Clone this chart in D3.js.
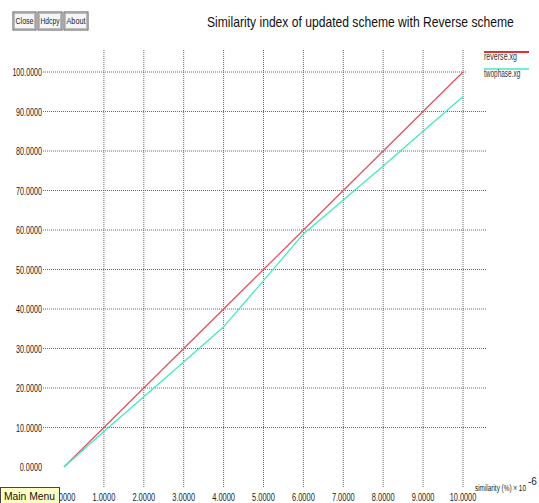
<!DOCTYPE html>
<html>
<head>
<meta charset="utf-8">
<script src="https://cdn.jsdelivr.net/npm/d3@7"></script>
<style>
  body { margin: 0; background: #fff; }
  svg { display: block; font-family: "Liberation Sans", Arial, sans-serif; }
</style>
</head>
<body>
<div id="chart"></div>
<script>
// data
var xValues = [0, 1, 2, 3, 4, 5, 6, 7, 8, 9, 10];
var reverseValues = [0, 10, 20, 30, 40, 50, 60, 70, 80, 90, 100];
var twophaseValues = [0, 9, 17.8, 26.6, 35.5, 47.2, 59, 67.6, 76.2, 85, 93.8];
var xTicks = [0, 1, 2, 3, 4, 5, 6, 7, 8, 9, 10];
var yTicks = [0, 10, 20, 30, 40, 50, 60, 70, 80, 90, 100];
var seriesNames = ["reverse.xg", "twophase.xg"];
var buttonLabels = ["Close", "Hdcpy", "About"];

var width = 539, height = 503;

var svg = d3.select("#chart").append("svg")
    .attr("width", width)
    .attr("height", height);

var x = d3.scaleLinear().domain([0, 10]).range([64, 463]);
var y = d3.scaleLinear().domain([0, 100]).range([467, 72]);

// squeeze text like the narrow X11 font
function narrow(sel, perChar) {
  sel.attr("textLength", function(d) { return this.textContent.length * perChar; })
     .attr("lengthAdjust", "spacingAndGlyphs");
}

// squeeze a text to a given width with a horizontal scale
function fitWidth(sel, px, py, w) {
  var len = sel.node().getComputedTextLength();
  sel.attr("transform", "translate(" + px + "," + py + ") scale(" + (w / len) + ",1)");
}

// horizontal grid
var grid = svg.append("g").attr("class", "grid");
grid.selectAll("line.h")
  .data(yTicks.filter(function(d) { return d > 0; }))
  .enter().append("line")
    .attr("class", "h")
    .attr("x1", 43).attr("x2", 486)
    .attr("y1", function(d) { return y(d); })
    .attr("y2", function(d) { return y(d); })
    .attr("stroke", "#6a6a6a").attr("stroke-width", 1)
    .attr("stroke-dasharray", "1,1");

// vertical grid
grid.selectAll("line.v")
  .data(xTicks.filter(function(d) { return d > 0; }))
  .enter().append("line")
    .attr("class", "v")
    .attr("x1", function(d) { return x(d); })
    .attr("x2", function(d) { return x(d); })
    .attr("y1", 50).attr("y2", 488)
    .attr("stroke", "#6a6a6a").attr("stroke-width", 1)
    .attr("stroke-dasharray", "1,1");

// y labels
svg.append("g").selectAll("text")
  .data(yTicks)
  .enter().append("text")
    .attr("x", 42)
    .attr("y", function(d) { return y(d) + 4; })
    .attr("text-anchor", "end")
    .attr("font-size", 11)
    .attr("fill", "#222")
    .text(function(d) { return d3.format(".4f")(d); })
    .call(narrow, 3.7);

// x labels
svg.append("g").selectAll("text")
  .data(xTicks)
  .enter().append("text")
    .attr("x", function(d) { return x(d); })
    .attr("y", 501)
    .attr("text-anchor", "middle")
    .attr("font-size", 11)
    .attr("fill", "#222")
    .text(function(d) { return d3.format(".4f")(d); })
    .call(narrow, 3.8);

// series lines
var line = d3.line()
    .x(function(d) { return x(d[0]); })
    .y(function(d) { return y(d[1]); });

svg.append("path")
    .datum(d3.zip(xValues, reverseValues))
    .attr("d", line)
    .attr("fill", "none")
    .attr("stroke", "#e0505a")
    .attr("stroke-width", 1.2);

svg.append("path")
    .datum(d3.zip(xValues, twophaseValues))
    .attr("d", line)
    .attr("fill", "none")
    .attr("stroke", "#40e8c0")
    .attr("stroke-width", 1.2);

// legend (white backdrop clips the grid)
svg.append("rect")
    .attr("x", 466).attr("y", 44).attr("width", 73).attr("height", 34)
    .attr("fill", "#fff");

var legendColors = ["#e0303c", "#70f0d0"];
var legend = svg.append("g").selectAll("g")
  .data(seriesNames)
  .enter().append("g")
    .attr("transform", function(d, i) { return "translate(484," + (52 + i * 17) + ")"; });

legend.append("line")
    .attr("x1", 0).attr("x2", 45)
    .attr("stroke", function(d, i) { return legendColors[i]; })
    .attr("stroke-width", 2);

legend.append("text")
    .attr("x", 0).attr("y", 8)
    .attr("font-size", 10)
    .attr("fill", "#333")
    .text(function(d) { return d; })
    .call(narrow, 3.3);

// title
var title = svg.append("text")
    .attr("font-size", 15)
    .attr("fill", "#111")
    .text("Similarity index of updated scheme with Reverse scheme");
fitWidth(title, 207, 27, 307);

// axis unit label
var unit = svg.append("text")
    .attr("font-size", 9)
    .attr("fill", "#222")
    .text("similarity (%) \u00d7 10");
fitWidth(unit, 475, 491, 51);
svg.append("text")
    .attr("x", 528).attr("y", 485)
    .attr("font-size", 10)
    .attr("fill", "#222")
    .text("-6");

// top buttons
var buttonX = [13, 38, 64], buttonW = [23, 24, 24];
var buttons = svg.append("g").selectAll("g")
  .data(buttonLabels)
  .enter().append("g")
    .attr("transform", function(d, i) { return "translate(" + buttonX[i] + ",12)"; });

buttons.append("rect")
    .attr("width", function(d, i) { return buttonW[i]; })
    .attr("height", 18)
    .attr("fill", "#f6f6f6")
    .attr("stroke", "#555");

buttons.append("rect")
    .attr("x", 1.5).attr("y", 1.5)
    .attr("width", function(d, i) { return buttonW[i] - 3; })
    .attr("height", 15)
    .attr("fill", "none")
    .attr("stroke", "#bbb");

buttons.append("text")
    .attr("x", function(d, i) { return buttonW[i] / 2; })
    .attr("y", 12)
    .attr("text-anchor", "middle")
    .attr("font-size", 9)
    .attr("fill", "#222")
    .text(function(d) { return d; })
    .attr("textLength", function(d, i) { return buttonW[i] - 5; })
    .attr("lengthAdjust", "spacingAndGlyphs");

// Main Menu button
var mm = svg.append("g").attr("transform", "translate(0,487)");
mm.append("rect")
    .attr("x", 0.5).attr("y", 0.5).attr("width", 59).attr("height", 16)
    .attr("fill", "#ffffc4")
    .attr("stroke", "#444");
mm.append("text")
    .attr("x", 4).attr("y", 12.5)
    .attr("font-size", 11)
    .attr("fill", "#111")
    .text("Main Menu")
    .attr("textLength", 51)
    .attr("lengthAdjust", "spacingAndGlyphs");
</script>
</body>
</html>
